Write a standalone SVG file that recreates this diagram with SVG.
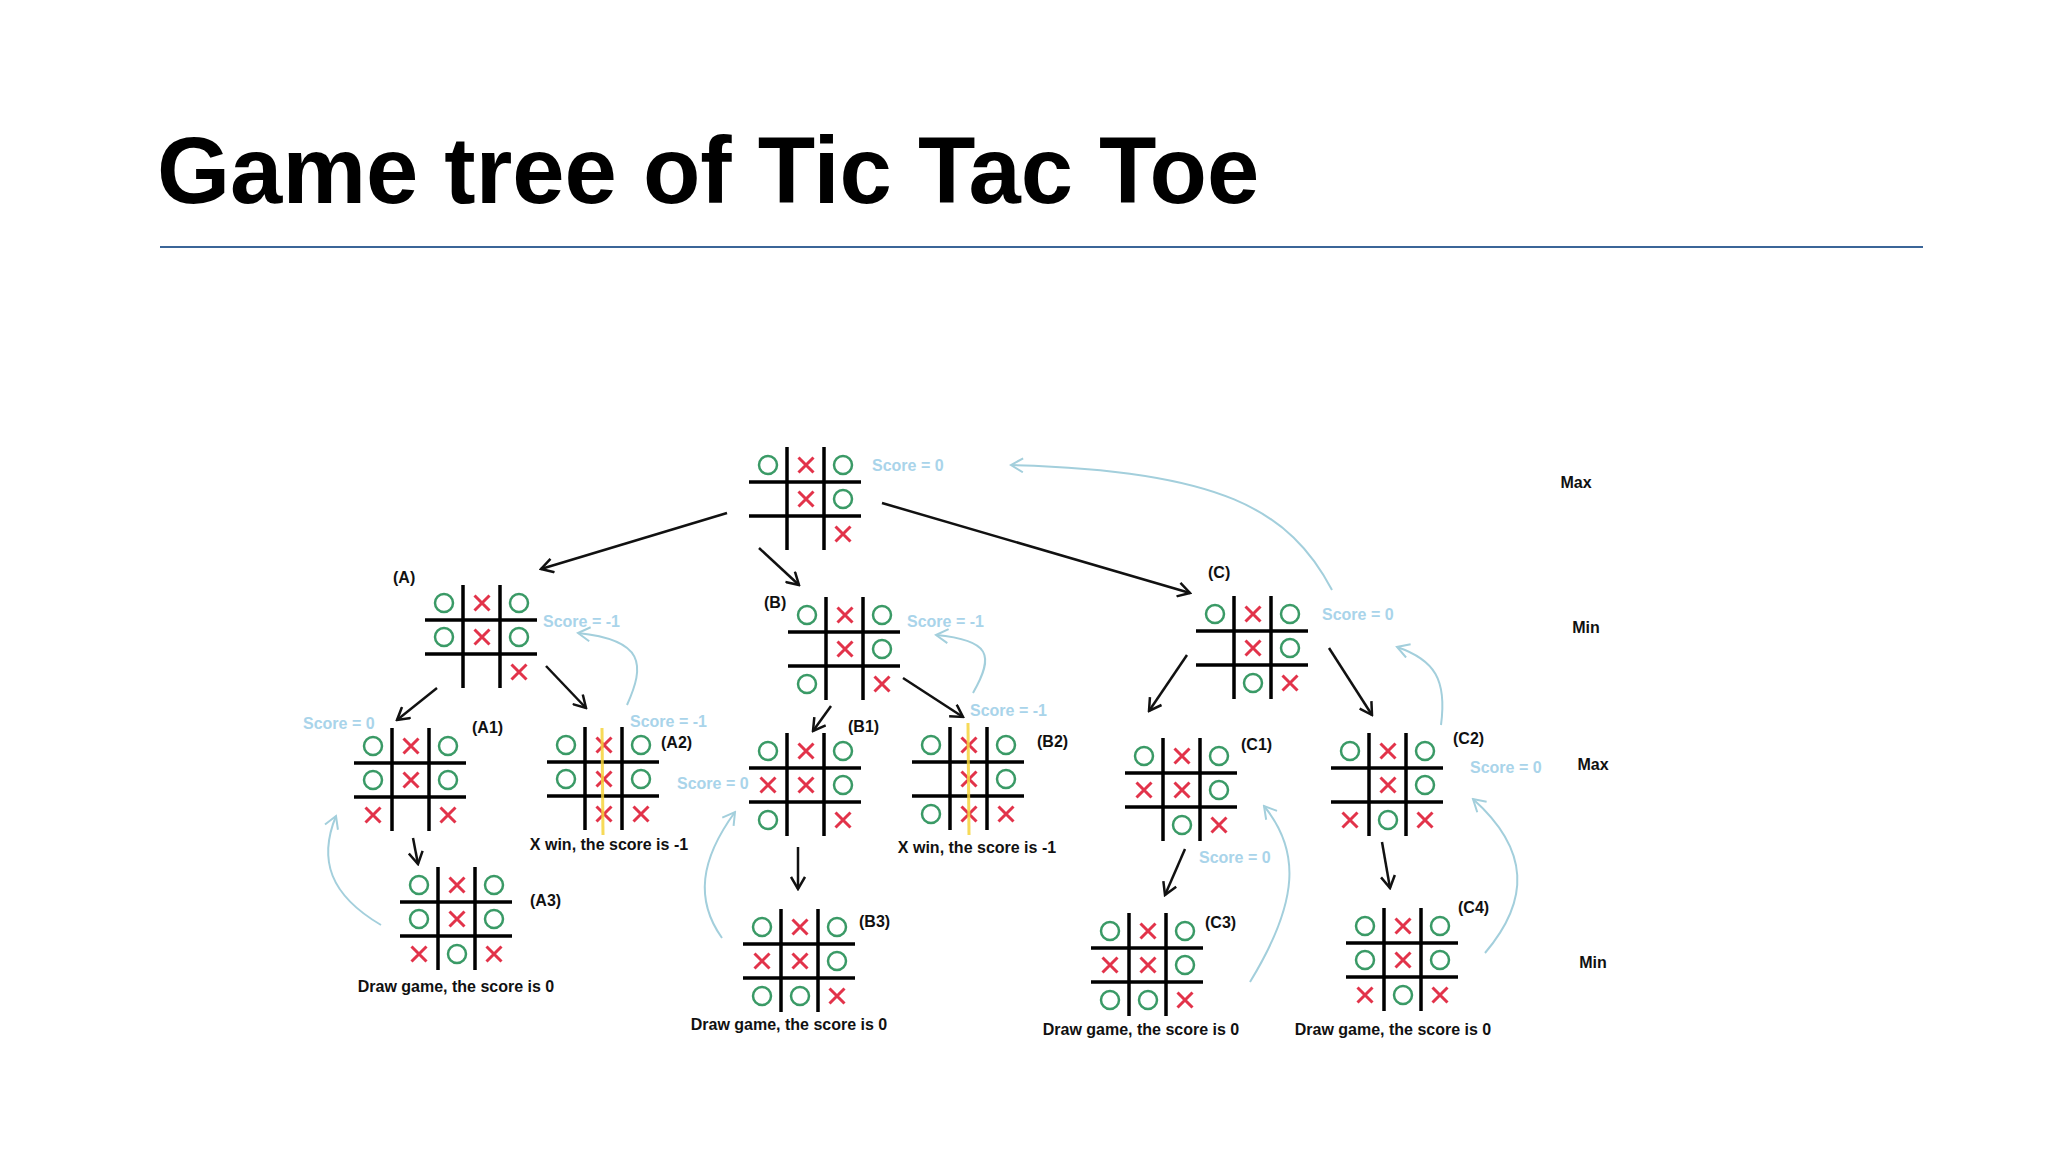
<svg xmlns="http://www.w3.org/2000/svg" width="2048" height="1152" viewBox="0 0 2048 1152">
<style>
.t{font-family:"Liberation Sans",Arial,sans-serif;font-weight:bold}
.lbl{font-size:16px;fill:#111}
.cap{font-size:16px;fill:#111;text-anchor:middle}
.lvl{font-size:16px;fill:#111;text-anchor:middle}
.sc{font-size:16px;fill:#a9d4ea}
.edge{stroke:#111;stroke-width:2.5;fill:none;marker-end:url(#ah)}
.back{stroke:#a3cfdc;stroke-width:2;fill:none;marker-end:url(#bh)}
.gl{stroke:#000;stroke-width:3.5}
.o{fill:none;stroke:#3a9a66;stroke-width:2.5}
.x{fill:none;stroke:#e2334a;stroke-width:3}
.win{stroke:#f6d43c;stroke-width:3;opacity:0.85}
</style>
<defs>
<marker id="ah" viewBox="0 0 16 16" refX="14" refY="8" markerWidth="16" markerHeight="16" markerUnits="userSpaceOnUse" orient="auto">
<path d="M2,1 L14,8 L2,15" fill="none" stroke="#111" stroke-width="2.5"/>
</marker>
<marker id="bh" viewBox="0 0 16 16" refX="14" refY="8" markerWidth="16" markerHeight="16" markerUnits="userSpaceOnUse" orient="auto">
<path d="M2,1 L14,8 L2,15" fill="none" stroke="#a3cfdc" stroke-width="2"/>
</marker>
<g id="grid">
<line class="gl" x1="38" y1="0" x2="38" y2="103"/>
<line class="gl" x1="75" y1="0" x2="75" y2="103"/>
<line class="gl" x1="0" y1="35" x2="112" y2="35"/>
<line class="gl" x1="0" y1="69" x2="112" y2="69"/>
</g>
<circle id="o" class="o" cx="0" cy="0" r="9"/>
<path id="x" class="x" d="M-7.5,-7.5 L7.5,7.5 M7.5,-7.5 L-7.5,7.5"/>
</defs>
<rect width="2048" height="1152" fill="#fff"/>

<text class="t" x="157" y="203" font-size="94" fill="#000">Game tree of Tic Tac Toe</text>
<line x1="160" y1="247" x2="1923" y2="247" stroke="#3b6598" stroke-width="2"/>

<g id="levels">
<text class="t lvl" x="1576" y="488">Max</text>
<text class="t lvl" x="1586" y="633">Min</text>
<text class="t lvl" x="1593" y="770">Max</text>
<text class="t lvl" x="1593" y="968">Min</text>
</g>

<g id="connectors">
<line class="edge" x1="727" y1="513" x2="541" y2="569"/>
<line class="edge" x1="759" y1="548" x2="799" y2="585"/>
<line class="edge" x1="882" y1="503" x2="1190" y2="593"/>
<line class="edge" x1="437" y1="688" x2="397" y2="720"/>
<line class="edge" x1="546" y1="666" x2="586" y2="708"/>
<line class="edge" x1="413" y1="838" x2="418" y2="864"/>
<line class="edge" x1="831" y1="706" x2="813" y2="731"/>
<line class="edge" x1="903" y1="678" x2="963" y2="717"/>
<line class="edge" x1="798" y1="847" x2="798" y2="889"/>
<line class="edge" x1="1187" y1="655" x2="1149" y2="711"/>
<line class="edge" x1="1329" y1="648" x2="1372" y2="715"/>
<line class="edge" x1="1185" y1="849" x2="1165" y2="895"/>
<line class="edge" x1="1382" y1="842" x2="1390" y2="888"/>
<path class="back" d="M1332,590 C1290,510 1220,470 1011,465"/>
<path class="back" d="M627,705 C645,665 645,640 578,633"/>
<path class="back" d="M973,693 C995,655 990,640 936,635"/>
<path class="back" d="M1441,725 C1447,680 1435,660 1397,647"/>
<path class="back" d="M381,925 C330,895 318,860 336,816"/>
<path class="back" d="M722,938 C695,900 700,860 735,812"/>
<path class="back" d="M1250,982 C1300,900 1300,850 1264,806"/>
<path class="back" d="M1485,953 C1530,900 1530,850 1473,799"/>
</g>

<g id="root" transform="translate(749,447)">
<use href="#grid"/>
<use href="#o" x="19" y="18"/><use href="#x" x="57" y="18"/><use href="#o" x="94" y="18"/>
<use href="#x" x="57" y="52"/><use href="#o" x="94" y="52"/>
<use href="#x" x="94" y="87"/>
<text class="t sc" x="123" y="24">Score = 0</text>
</g>

<g id="A" transform="translate(425,585)">
<use href="#grid"/>
<use href="#o" x="19" y="18"/><use href="#x" x="57" y="18"/><use href="#o" x="94" y="18"/>
<use href="#o" x="19" y="52"/><use href="#x" x="57" y="52"/><use href="#o" x="94" y="52"/>
<use href="#x" x="94" y="87"/>
<text class="t lbl" x="-32" y="-2">(A)</text>
<text class="t sc" x="118" y="42">Score = -1</text>
</g>

<g id="A1" transform="translate(354,728)">
<use href="#grid"/>
<use href="#o" x="19" y="18"/><use href="#x" x="57" y="18"/><use href="#o" x="94" y="18"/>
<use href="#o" x="19" y="52"/><use href="#x" x="57" y="52"/><use href="#o" x="94" y="52"/>
<use href="#x" x="19" y="87"/><use href="#x" x="94" y="87"/>
<text class="t lbl" x="118" y="5">(A1)</text>
<text class="t sc" x="-51" y="1">Score = 0</text>
</g>

<g id="A2" transform="translate(547,727)">
<use href="#grid"/>
<use href="#o" x="19" y="18"/><use href="#x" x="57" y="18"/><use href="#o" x="94" y="18"/>
<use href="#o" x="19" y="52"/><use href="#x" x="57" y="52"/><use href="#o" x="94" y="52"/>
<use href="#x" x="57" y="87"/><use href="#x" x="94" y="87"/>
<line class="win" x1="55" y1="1" x2="56" y2="108"/>
<text class="t lbl" x="114" y="21">(A2)</text>
<text class="t sc" x="83" y="0">Score = -1</text>
<text class="t cap" x="62" y="123">X win, the score is -1</text>
</g>

<g id="A3" transform="translate(400,867)">
<use href="#grid"/>
<use href="#o" x="19" y="18"/><use href="#x" x="57" y="18"/><use href="#o" x="94" y="18"/>
<use href="#o" x="19" y="52"/><use href="#x" x="57" y="52"/><use href="#o" x="94" y="52"/>
<use href="#x" x="19" y="87"/><use href="#o" x="57" y="87"/><use href="#x" x="94" y="87"/>
<text class="t lbl" x="130" y="39">(A3)</text>
<text class="t cap" x="56" y="125">Draw game, the score is 0</text>
</g>

<g id="B" transform="translate(788,597)">
<use href="#grid"/>
<use href="#o" x="19" y="18"/><use href="#x" x="57" y="18"/><use href="#o" x="94" y="18"/>
<use href="#x" x="57" y="52"/><use href="#o" x="94" y="52"/>
<use href="#o" x="19" y="87"/><use href="#x" x="94" y="87"/>
<text class="t lbl" x="-24" y="11">(B)</text>
<text class="t sc" x="119" y="30">Score = -1</text>
</g>

<g id="B1" transform="translate(749,733)">
<use href="#grid"/>
<use href="#o" x="19" y="18"/><use href="#x" x="57" y="18"/><use href="#o" x="94" y="18"/>
<use href="#x" x="19" y="52"/><use href="#x" x="57" y="52"/><use href="#o" x="94" y="52"/>
<use href="#o" x="19" y="87"/><use href="#x" x="94" y="87"/>
<text class="t lbl" x="99" y="-1">(B1)</text>
<text class="t sc" x="-72" y="56">Score = 0</text>
</g>

<g id="B2" transform="translate(912,727)">
<use href="#grid"/>
<use href="#o" x="19" y="18"/><use href="#x" x="57" y="18"/><use href="#o" x="94" y="18"/>
<use href="#x" x="57" y="52"/><use href="#o" x="94" y="52"/>
<use href="#o" x="19" y="87"/><use href="#x" x="57" y="87"/><use href="#x" x="94" y="87"/>
<line class="win" x1="56" y1="-4" x2="57" y2="108"/>
<text class="t lbl" x="125" y="20">(B2)</text>
<text class="t sc" x="58" y="-11">Score = -1</text>
<text class="t cap" x="65" y="126">X win, the score is -1</text>
</g>

<g id="B3" transform="translate(743,909)">
<use href="#grid"/>
<use href="#o" x="19" y="18"/><use href="#x" x="57" y="18"/><use href="#o" x="94" y="18"/>
<use href="#x" x="19" y="52"/><use href="#x" x="57" y="52"/><use href="#o" x="94" y="52"/>
<use href="#o" x="19" y="87"/><use href="#o" x="57" y="87"/><use href="#x" x="94" y="87"/>
<text class="t lbl" x="116" y="18">(B3)</text>
<text class="t cap" x="46" y="121">Draw game, the score is 0</text>
</g>

<g id="C" transform="translate(1196,596)">
<use href="#grid"/>
<use href="#o" x="19" y="18"/><use href="#x" x="57" y="18"/><use href="#o" x="94" y="18"/>
<use href="#x" x="57" y="52"/><use href="#o" x="94" y="52"/>
<use href="#o" x="57" y="87"/><use href="#x" x="94" y="87"/>
<text class="t lbl" x="12" y="-18">(C)</text>
<text class="t sc" x="126" y="24">Score = 0</text>
</g>

<g id="C1" transform="translate(1125,738)">
<use href="#grid"/>
<use href="#o" x="19" y="18"/><use href="#x" x="57" y="18"/><use href="#o" x="94" y="18"/>
<use href="#x" x="19" y="52"/><use href="#x" x="57" y="52"/><use href="#o" x="94" y="52"/>
<use href="#o" x="57" y="87"/><use href="#x" x="94" y="87"/>
<text class="t lbl" x="116" y="12">(C1)</text>
<text class="t sc" x="74" y="125">Score = 0</text>
</g>

<g id="C2" transform="translate(1331,733)">
<use href="#grid"/>
<use href="#o" x="19" y="18"/><use href="#x" x="57" y="18"/><use href="#o" x="94" y="18"/>
<use href="#x" x="57" y="52"/><use href="#o" x="94" y="52"/>
<use href="#x" x="19" y="87"/><use href="#o" x="57" y="87"/><use href="#x" x="94" y="87"/>
<text class="t lbl" x="122" y="11">(C2)</text>
<text class="t sc" x="139" y="40">Score = 0</text>
</g>

<g id="C3" transform="translate(1091,913)">
<use href="#grid"/>
<use href="#o" x="19" y="18"/><use href="#x" x="57" y="18"/><use href="#o" x="94" y="18"/>
<use href="#x" x="19" y="52"/><use href="#x" x="57" y="52"/><use href="#o" x="94" y="52"/>
<use href="#o" x="19" y="87"/><use href="#o" x="57" y="87"/><use href="#x" x="94" y="87"/>
<text class="t lbl" x="114" y="15">(C3)</text>
<text class="t cap" x="50" y="122">Draw game, the score is 0</text>
</g>

<g id="C4" transform="translate(1346,908)">
<use href="#grid"/>
<use href="#o" x="19" y="18"/><use href="#x" x="57" y="18"/><use href="#o" x="94" y="18"/>
<use href="#o" x="19" y="52"/><use href="#x" x="57" y="52"/><use href="#o" x="94" y="52"/>
<use href="#x" x="19" y="87"/><use href="#o" x="57" y="87"/><use href="#x" x="94" y="87"/>
<text class="t lbl" x="112" y="5">(C4)</text>
<text class="t cap" x="47" y="127">Draw game, the score is 0</text>
</g>
</svg>
